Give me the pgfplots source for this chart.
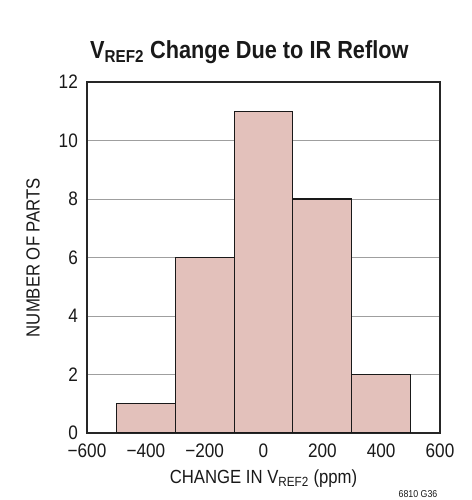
\documentclass[border=0pt]{standalone}
\usepackage{fontspec}
\setmainfont{Liberation Sans}[FakeStretch=0.88]
\usepackage{pgfplots}
\pgfplotsset{compat=1.18}
\definecolor{barcol}{RGB}{227,193,187}
\begin{document}
\begin{tikzpicture}[x=1pt,y=1pt]
\path (0,0) rectangle (471,500);
\begin{axis}[
  at={(87pt,67pt)}, anchor=south west,
  scale only axis, width=353pt, height=351pt,
  xmin=-600, xmax=600, ymin=0, ymax=12,
  xtick={-600,-400,...,600},
  xticklabels={−600,−400,−200,0,200,400,600},
  ytick={0,2,...,12},
  major tick length=0pt,
  ymajorgrids, grid style={gray!75, line width=0.8pt},
  axis line style={line width=1.2pt, black!85},
  tick label style={font=\fontsize{19.5}{20}\selectfont, text=black!90, inner sep=0pt},
  /pgf/number format/assume math mode=true,
  xticklabel style={anchor=base, yshift=-24pt},
  yticklabel style={anchor=east, xshift=-9pt},
  xlabel={CHANGE IN V\textsubscript{REF2} (ppm)},
  ylabel={NUMBER OF PARTS},
  label style={font=\fontsize{19}{20}\selectfont, text=black!90, inner sep=0pt},
  xlabel style={at={(axis description cs:0.5,0)}, anchor=base, yshift=-50pt},
  ylabel style={at={(axis description cs:-0.153,0.5)}, anchor=center},
]
\addplot[ybar interval, fill=barcol, draw=black!90, line width=1.1pt]
  coordinates {(-500,1) (-300,6) (-100,11) (100,8) (300,2) (500,2)};
\end{axis}
\node[font=\bfseries\fontsize{24.7}{26}\selectfont, text=black!90, anchor=base west, inner sep=0pt] at (90,441) {V\textsubscript{REF2} Change Due to IR Reflow};
\node[font=\fontsize{10}{11}\selectfont, text=black!90, anchor=base, inner sep=0pt] at (418,2) {6810 G36};
\end{tikzpicture}
\end{document}
